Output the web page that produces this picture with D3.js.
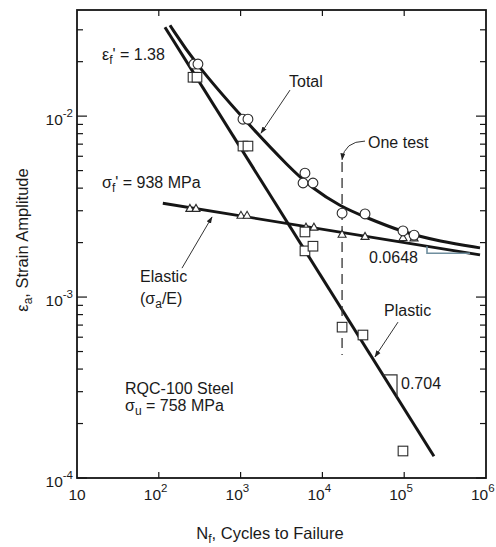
<!DOCTYPE html>
<html><head><meta charset="utf-8">
<script src="https://cdn.jsdelivr.net/npm/d3@7"></script>
<style>
body{margin:0;background:#fff}
svg{display:block}
text{font-family:"Liberation Sans",Arial,Helvetica,sans-serif;fill:#1a1a1a}
</style>
</head><body>
<svg id="c" width="496" height="547"></svg>
<script>
// ---------------- data ----------------
const xDecades = [10, 1e2, 1e3, 1e4, 1e5, 1e6];
const xExp = [null, 2, 3, 4, 5, 6];
const yDecades = [1e-4, 1e-3, 1e-2];
const yExp = [-4, -3, -2];
const yMinorMult = [2, 3, 4, 5, 6, 7, 8, 9];

// test data: total strain (circles)
const totalN = [269, 301, 1069, 1230, 6120, 5800, 7670, 17400, 33200, 96600, 132000];
const totalE = [0.0194, 0.0194, 0.00962, 0.00962, 0.00484, 0.00427, 0.00427, 0.00291, 0.00288, 0.00232, 0.00220];
// elastic strain (triangles)
const elasticN = [240, 285, 1010, 1200, 6300, 7880, 17400, 33200, 96600, 132000];
const elasticE = [0.0031, 0.0031, 0.00284, 0.00284, 0.00244, 0.00244, 0.00223, 0.00217, 0.00214, 0.00213];
// plastic strain (squares)
const plasticN = [262, 293, 1069, 1230, 6120, 6120, 7670, 17400, 31300, 96600];
const plasticE = [0.0164, 0.0164, 0.00683, 0.00683, 0.00229, 0.00180, 0.00191, 0.000682, 0.000617, 0.000141];

// fitted lines
const plasticLineN = [119, 231000];
const plasticLineE = [0.0310, 0.000132];
const elasticLineN = [112, 845000];
const elasticLineE = [0.00330, 0.00171];
const totalCurveN = [137, 269, 1164, 4018, 7460, 16400, 33200, 96600, 274000, 845000];
const totalCurveE = [0.0318, 0.0199, 0.0093, 0.00516, 0.0040, 0.00318, 0.00277, 0.00228, 0.00203, 0.00187];

// one test marker
const oneTestN = 17400;
const oneTestE = [0.00557, 0.000479];

// slope markers
const plasticSlopeN = [55000, 81700];
const elasticSlopeN = [190000, 637000];

// ---------------- scales ----------------
const svg = d3.select("#c");
const L = 77, R = 486, T = 10, B = 478;
const x = d3.scaleLog().domain([10, 1e6]).range([L, R]);
const y = d3.scaleLog().domain([1e-4, 0.0386]).range([B, T]);

const ink = "#151515";

// frame
svg.append("rect").attr("x", L).attr("y", T).attr("width", R - L).attr("height", B - T)
  .attr("fill", "none").attr("stroke", ink).attr("stroke-width", 1.8);

// ticks (inward)
const yMinor = [];
yDecades.forEach(d => yMinorMult.forEach(k => { if (k * d < y.domain()[1]) yMinor.push(k * d); }));
const tg = svg.append("g").attr("stroke", ink).attr("stroke-width", 1.2);
yDecades.forEach(v => {
  tg.append("line").attr("x1", L).attr("x2", L + 10).attr("y1", y(v)).attr("y2", y(v));
  tg.append("line").attr("x1", R).attr("x2", R - 10).attr("y1", y(v)).attr("y2", y(v));
});
yMinor.forEach(v => {
  tg.append("line").attr("x1", L).attr("x2", L + 6).attr("y1", y(v)).attr("y2", y(v));
  tg.append("line").attr("x1", R).attr("x2", R - 6).attr("y1", y(v)).attr("y2", y(v));
});
xDecades.slice(1, -1).forEach(v => {
  tg.append("line").attr("x1", x(v)).attr("x2", x(v)).attr("y1", B).attr("y2", B - 6);
  tg.append("line").attr("x1", x(v)).attr("x2", x(v)).attr("y1", T).attr("y2", T + 6);
});

// x tick labels
xDecades.forEach((v, i) => {
  const t = svg.append("text").attr("font-size", 15.5).attr("y", 500);
  if (xExp[i] === null) {
    t.attr("x", x(v)).attr("text-anchor", "middle").text("10");
  } else {
    t.attr("x", x(v) - 15).attr("text-anchor", "start");
    t.append("tspan").text("10");
    t.append("tspan").attr("font-size", 11.5).attr("dy", -8).text(xExp[i]);
  }
});
// y tick labels
yDecades.forEach((v, i) => {
  const t = svg.append("text").attr("font-size", 15.5).attr("x", 73).attr("y", y(v) + 9).attr("text-anchor", "end");
  t.append("tspan").text("10");
  t.append("tspan").attr("font-size", 11.5).attr("dy", -8).text(yExp[i]);
});

// axis titles
const xt = svg.append("text").attr("font-size", 16.5).attr("x", 270).attr("y", 539).attr("text-anchor", "middle");
xt.append("tspan").text("N");
xt.append("tspan").attr("font-size", 12).attr("dy", 3.5).text("f");
xt.append("tspan").attr("dy", -3.5).text(", Cycles to Failure");

const yt = svg.append("text").attr("font-size", 16.5).attr("text-anchor", "middle")
  .attr("transform", "translate(28,240) rotate(-90)");
yt.append("tspan").text("ε");
yt.append("tspan").attr("font-size", 12).attr("dy", 4).text("a");
yt.append("tspan").attr("dy", -4).text(", Strain Amplitude");

// ---------------- lines ----------------
const line = d3.line().x(d => x(d[0])).y(d => y(d[1]));
svg.append("path").datum(plasticLineN.map((n, i) => [n, plasticLineE[i]]))
  .attr("d", line).attr("fill", "none").attr("stroke", ink).attr("stroke-width", 3);
svg.append("path").datum(elasticLineN.map((n, i) => [n, elasticLineE[i]]))
  .attr("d", line).attr("fill", "none").attr("stroke", ink).attr("stroke-width", 2.8);
const curveLine = d3.line().x(d => x(d[0])).y(d => y(d[1])).curve(d3.curveBasis);
svg.append("path").datum(totalCurveN.map((n, i) => [n, totalCurveE[i]]))
  .attr("d", curveLine).attr("fill", "none").attr("stroke", ink).attr("stroke-width", 3);

// log-linear position on a fitted straight line
function onLine(ns, es, n) {
  const t = (Math.log10(n) - Math.log10(ns[0])) / (Math.log10(ns[1]) - Math.log10(ns[0]));
  return Math.pow(10, Math.log10(es[0]) + t * (Math.log10(es[1]) - Math.log10(es[0])));
}

// slope marker, plastic
{
  const [na, nb] = plasticSlopeN;
  const ea = onLine(plasticLineN, plasticLineE, na), eb = onLine(plasticLineN, plasticLineE, nb);
  svg.append("path").attr("d", `M${x(na)},${y(ea)}H${x(nb)}V${y(eb)}`)
    .attr("fill", "none").attr("stroke", "#333").attr("stroke-width", 1.2);
  svg.append("text").attr("font-size", 16).attr("x", x(nb) + 4).attr("y", 389).text("0.704");
}
// slope marker, elastic
{
  const [na, nb] = elasticSlopeN;
  const ea = onLine(elasticLineN, elasticLineE, na), eb = onLine(elasticLineN, elasticLineE, nb);
  svg.append("path").attr("d", `M${x(na)},${y(ea)}V${y(eb)}H${x(nb)}`)
    .attr("fill", "none").attr("stroke", "#6f8e9e").attr("stroke-width", 1.6);
  svg.append("text").attr("font-size", 16).attr("x", 369).attr("y", 263).text("0.0648");
}

// one test dashed line
svg.append("line").attr("x1", x(oneTestN)).attr("x2", x(oneTestN))
  .attr("y1", y(oneTestE[0])).attr("y2", y(oneTestE[1]))
  .attr("stroke", "#333").attr("stroke-width", 1.3).attr("stroke-dasharray", "10,6");

// ---------------- markers ----------------
const mk = svg.append("g").attr("stroke", "#2a2a2a").attr("stroke-width", 1.1).attr("fill", "#fff");
elasticN.forEach((n, i) => {
  const cx = x(n), cy = y(elasticE[i]);
  mk.append("path").attr("d", `M${cx - 4},${cy + 3.2}L${cx},${cy - 3.8}L${cx + 4},${cy + 3.2}Z`);
});
plasticN.forEach((n, i) => {
  mk.append("rect").attr("x", x(n) - 4.8).attr("y", y(plasticE[i]) - 4.8).attr("width", 9.6).attr("height", 9.6);
});
totalN.forEach((n, i) => {
  mk.append("circle").attr("cx", x(n)).attr("cy", y(totalE[i])).attr("r", 4.9);
});

// ---------------- annotations ----------------
const defs = svg.append("defs");
defs.append("marker").attr("id", "ah").attr("viewBox", "0 0 10 10").attr("refX", 9).attr("refY", 5)
  .attr("markerWidth", 7).attr("markerHeight", 7).attr("orient", "auto-start-reverse")
  .append("path").attr("d", "M0,1.5L10,5L0,8.5Z").attr("fill", "#222");

function arrow(n0, e0, n1, e1) {
  svg.append("line").attr("x1", x(n0)).attr("y1", y(e0)).attr("x2", x(n1)).attr("y2", y(e1))
    .attr("stroke", "#333").attr("stroke-width", 1).attr("marker-end", "url(#ah)");
}
arrow(4018, 0.01393, 1775, 0.00805);     // Total
arrow(192, 0.001445, 447, 0.00277);      // Elastic
arrow(84000, 0.000727, 43900, 0.000467); // Plastic

// curved "one test" arrow
svg.append("path")
  .attr("d", `M${x(33200)},${y(0.00728)}Q${x(18500)},${y(0.00725)} ${x(oneTestN)},${y(0.00575)}`)
  .attr("fill", "none").attr("stroke", "#333").attr("stroke-width", 1).attr("marker-end", "url(#ah)");

function label(xp, yp, parts) {
  const t = svg.append("text").attr("font-size", 16).attr("x", xp).attr("y", yp);
  let shift = 0;
  parts.forEach(p => {
    const s = t.append("tspan").text(p[0]);
    const target = p[1] === "sub" ? 4 : 0;
    if (p[1] === "sub") s.attr("font-size", 12);
    if (target !== shift) { s.attr("dy", target - shift); shift = target; }
  });
  return t;
}
label(102, 60, [["ε"], ["f", "sub"], ["' = 1.38"]]);
label(102, 188, [["σ"], ["f", "sub"], ["' = 938 MPa"]]);
label(289, 87, [["Total"]]);
label(368, 148, [["One test"]]);
label(140, 282, [["Elastic"]]);
label(140, 304, [["(σ"], ["a", "sub"], ["/E)"]]);
label(384, 316, [["Plastic"]]);
label(125, 394, [["RQC-100 Steel"]]);
label(125, 411, [["σ"], ["u", "sub"], [" = 758 MPa"]]);
</script>
</body></html>
